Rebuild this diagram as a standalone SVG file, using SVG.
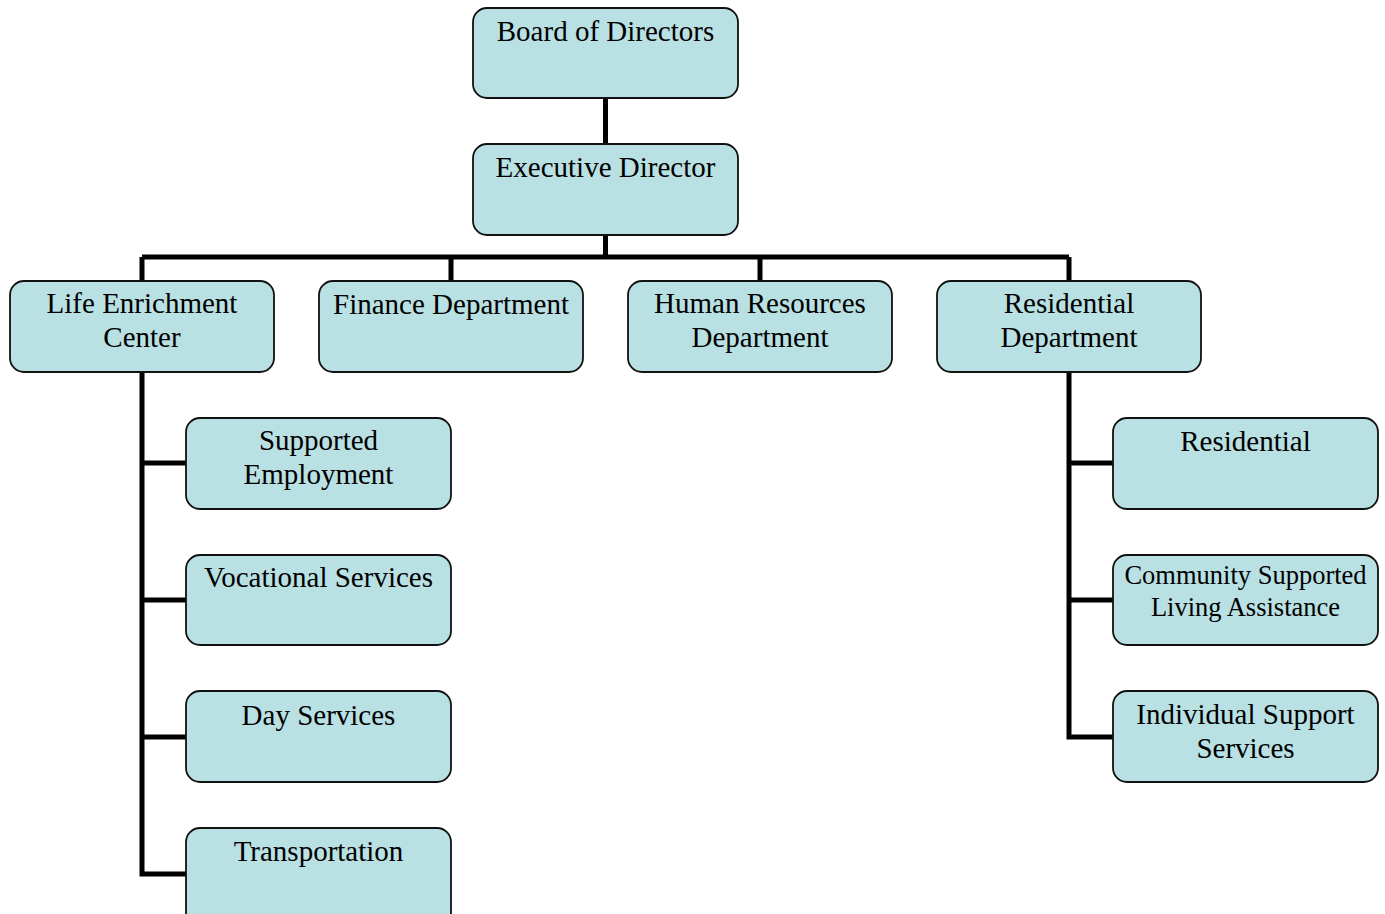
<svg xmlns="http://www.w3.org/2000/svg" width="1385" height="914" viewBox="0 0 1385 914">
<style>
.box{fill:#b9e0e3;stroke:#111;stroke-width:1.8}
.t{font-family:'Liberation Serif','Times New Roman',serif;font-size:29px;fill:#000;text-anchor:middle}
.s{font-size:26.5px}
.c{fill:none;stroke:#000;stroke-width:5}
</style>
<rect x="0" y="0" width="1385" height="914" fill="#fff"/>
<g id="connectors">
<path class="c" d="M605.5 98V144M605.5 235V257M142 257H1069M142 257V281M451 257V281M760 257V281M1069 257V281"/>
<path class="c" d="M142 372V874H186M142 463H186M142 600H186M142 737H186"/>
<path class="c" d="M1069 372V737H1113M1069 463H1113M1069 600H1113"/>
</g>
<g id="board"><rect class="box" x="473" y="8" width="265" height="90" rx="14"/><text class="t" x="605.5" y="41">Board of Directors</text></g>
<g id="exec"><rect class="box" x="473" y="144" width="265" height="91" rx="14"/><text class="t" x="605.5" y="177">Executive Director</text></g>
<g id="lec"><rect class="box" x="10" y="281" width="264" height="91" rx="14"/><text class="t" x="142" y="313">Life Enrichment</text><text class="t" x="142" y="347">Center</text></g>
<g id="finance"><rect class="box" x="319" y="281" width="264" height="91" rx="14"/><text class="t" x="451" y="314">Finance Department</text></g>
<g id="hr"><rect class="box" x="628" y="281" width="264" height="91" rx="14"/><text class="t" x="760" y="313">Human Resources</text><text class="t" x="760" y="347">Department</text></g>
<g id="resdept"><rect class="box" x="937" y="281" width="264" height="91" rx="14"/><text class="t" x="1069" y="313">Residential</text><text class="t" x="1069" y="347">Department</text></g>
<g id="supemp"><rect class="box" x="186" y="418" width="265" height="91" rx="14"/><text class="t" x="318.5" y="450">Supported</text><text class="t" x="318.5" y="484">Employment</text></g>
<g id="voc"><rect class="box" x="186" y="555" width="265" height="90" rx="14"/><text class="t" x="318.5" y="587">Vocational Services</text></g>
<g id="day"><rect class="box" x="186" y="691" width="265" height="91" rx="14"/><text class="t" x="318.5" y="725">Day Services</text></g>
<g id="trans"><rect class="box" x="186" y="828" width="265" height="100" rx="14"/><text class="t" x="318.5" y="861">Transportation</text></g>
<g id="res"><rect class="box" x="1113" y="418" width="265" height="91" rx="14"/><text class="t" x="1245.5" y="451">Residential</text></g>
<g id="csla"><rect class="box" x="1113" y="555" width="265" height="90" rx="14"/><text class="t s" x="1245.5" y="584">Community Supported</text><text class="t s" x="1245.5" y="616">Living Assistance</text></g>
<g id="iss"><rect class="box" x="1113" y="691" width="265" height="91" rx="14"/><text class="t" x="1245.5" y="724">Individual Support</text><text class="t" x="1245.5" y="758">Services</text></g>
</svg>
